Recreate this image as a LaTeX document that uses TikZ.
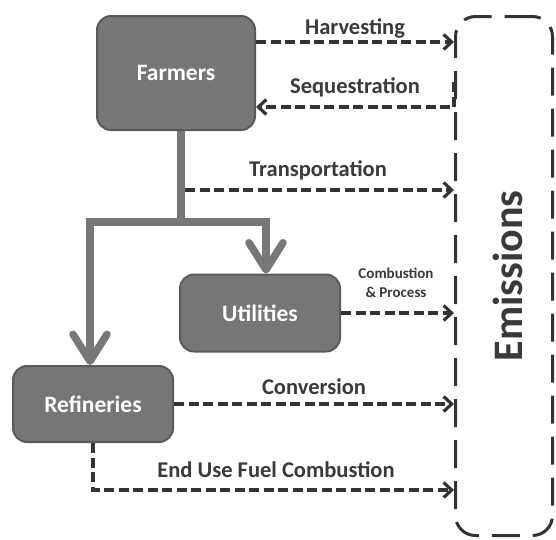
\documentclass[tikz,border=0pt]{standalone}
\usepackage{fontspec}
\setmainfont{Carlito}
\usetikzlibrary{arrows.meta}
\definecolor{boxfill}{HTML}{767676}
\definecolor{boxedge}{HTML}{5A5A5A}
\definecolor{flowcol}{HTML}{333333}
\definecolor{labelcol}{HTML}{3A3A3A}
\definecolor{trunkcol}{HTML}{777777}
\begin{document}
\begin{tikzpicture}[x=1pt,y=-1pt,
  actor/.style={draw=boxedge, fill=boxfill, line width=2pt, rounded corners=14pt,
    text=white, font=\bfseries\fontsize{23.5}{27}\selectfont, inner sep=0pt},
  flow/.style={draw=flowcol, line width=3.2pt, dash pattern=on 10pt off 4.5pt,
    -{Straight Barb[length=8pt,width=15pt]}},
  flowlabel/.style={text=labelcol, font=\bfseries\fontsize{22.5}{26}\selectfont},
  smalllabel/.style={text=labelcol, font=\bfseries\fontsize{15}{19}\selectfont, align=center},
  trunk/.style={draw=trunkcol, line width=7.5pt, line join=miter,
    -{Straight Barb[length=27pt,width=34pt,round]}},
]
\useasboundingbox[fill=white] (0,0) rectangle (556,539);

% actors
\node[actor, minimum width=158pt, minimum height=114pt] (farmers) at (176,73) {Farmers};
\node[actor, minimum width=160pt, minimum height=77pt] (utilities) at (260,313) {Utilities};
\node[actor, minimum width=160pt, minimum height=76pt] (refineries) at (93,404) {Refineries};

% emissions sink
\node[draw=flowcol, line width=3pt, dash pattern=on 28pt off 13pt, rounded corners=20pt,
  minimum width=97pt, minimum height=519pt] (emis) at (504,276) {};
\node[rotate=90, text=labelcol, font=\bfseries\fontsize{42}{46}\selectfont] (emistext) at (508,276) {Emissions};

% material flow from the farms
\coordinate (split) at (181,222);
\coordinate (tstart) at (185,190);
\draw[trunk, -] (farmers.south -| split) -- (split);
\draw[trunk] (split) -- (266,222) -- (utilities.north -| 266,0);
\draw[trunk] (split) -- (90,222) -- (refineries.north -| 90,0);

% emission flows
\draw[flow] (farmers.east |- 0,42) -- (emis.west |- 0,42);
\draw[flow] (emis.west |- 0,82) -- (emis.west |- 0,107) -- (farmers.east |- 0,107);
\draw[flow] (tstart) -- (emis.west |- tstart);
\draw[flow] (utilities.east) -- (emis.west |- utilities.east);
\draw[flow] (refineries.east) -- (emis.west |- refineries.east);
\draw[flow] (refineries.south) -- (refineries.south |- 0,490) -- (emis.west |- 0,490);

% flow labels
\node[flowlabel] (lharv) at (355,28) {Harvesting};
\node[flowlabel] (lseq) at (355,87) {Sequestration};
\node[flowlabel] (ltrans) at (318,170) {Transportation};
\node[smalllabel] (lcomb) at (396,283) {Combustion\\\& Process};
\node[flowlabel] (lconv) at (314,387) {Conversion};
\node[flowlabel] (lend) at (276,470) {End Use Fuel Combustion};
\end{tikzpicture}
\end{document}
